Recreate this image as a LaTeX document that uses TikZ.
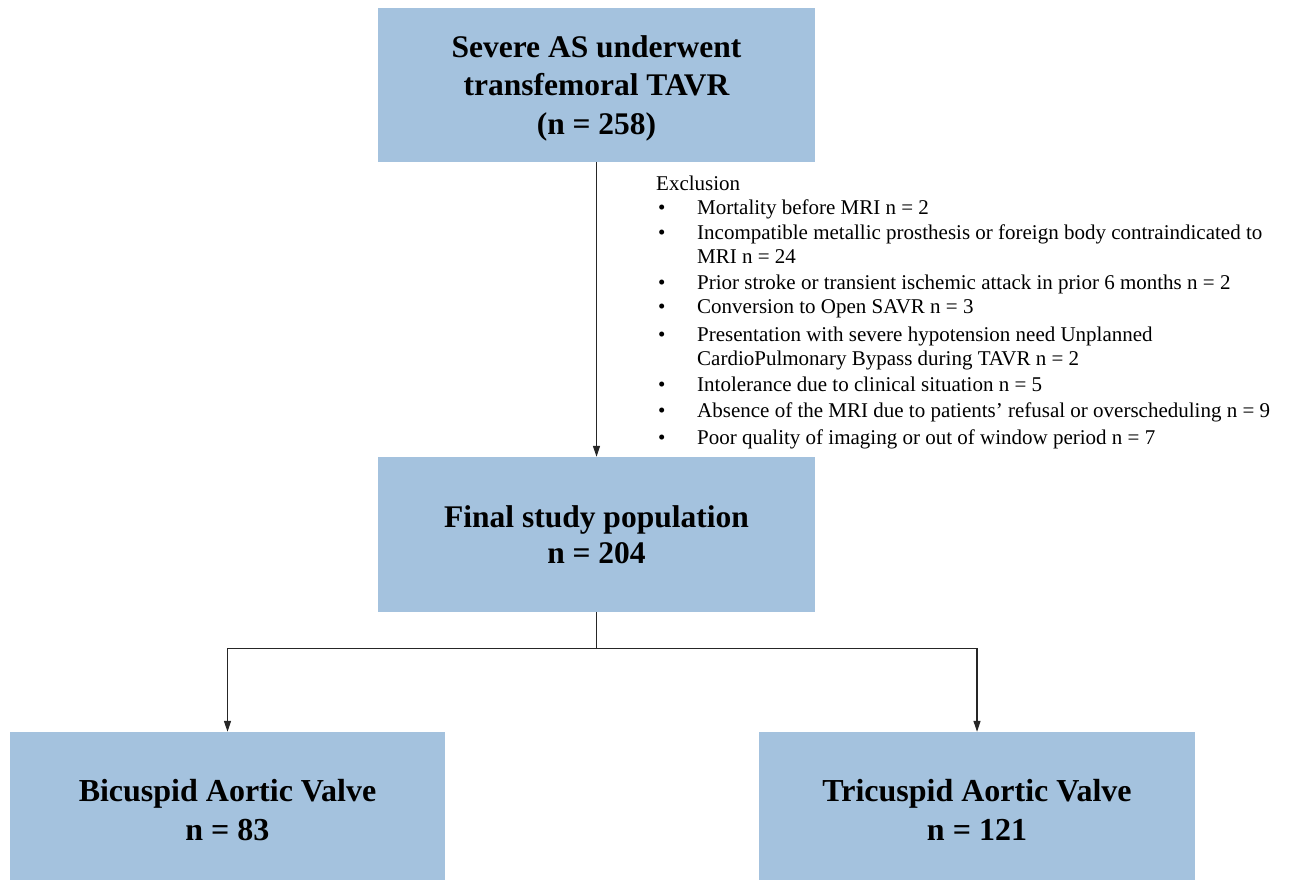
\documentclass[tikz,border=0pt]{standalone}
\usepackage{fontspec}
\setmainfont{Liberation Serif}
\usetikzlibrary{arrows.meta}
\definecolor{boxblue}{RGB}{164,194,222}
\begin{document}
\begin{tikzpicture}[x=1pt,y=-1pt,
  box/.style={fill=boxblue, draw=none, inner sep=0pt, align=center, font=\bfseries\fontsize{31.5}{38.5}\selectfont},
  conn/.style={line width=1.2pt, draw=black!85},
  arr/.style={conn, -{Triangle[length=11pt,width=7pt]}},
  exl/.style={anchor=mid west, inner sep=0pt, font=\fontsize{21}{24}\selectfont},
  bul/.style={anchor=mid west, inner sep=0pt, font=\fontsize{21}{24}\selectfont}]
\useasboundingbox (0,0) rectangle (1289,879);
\node[box, minimum width=437pt, minimum height=154pt, text depth=0pt] (top) at (596.5,85) {Severe AS underwent\\transfemoral TAVR\\(n = 258)};
\node[box, minimum width=437pt, minimum height=155pt, font=\bfseries\fontsize{31.5}{36}\selectfont] (mid) at (596.5,534.5) {Final study population\\n = 204};
\node[box, minimum width=435pt, minimum height=156pt, font=\bfseries\fontsize{32}{39}\selectfont] (bl) at (227.5,810) {Bicuspid Aortic Valve\\n = 83};
\node[box, minimum width=436pt, minimum height=156pt, font=\bfseries\fontsize{32}{39}\selectfont] (br) at (977,810) {Tricuspid Aortic Valve\\n = 121};

\draw[arr] (top.south) -- (mid.north);
\draw[conn] (mid.south) -- ++(0,36) coordinate (j);
\draw[arr] (j) -| (bl.north);
\draw[arr] (j) -| (br.north);

\node[exl] (ex0) at (656,188) {Exclusion};
\foreach \y/\t [count=\i] in {
  212/{Mortality before MRI n = 2},
  237/{Incompatible metallic prosthesis or foreign body contraindicated to},
  287/{Prior stroke or transient ischemic attack in prior 6 months n = 2},
  311/{Conversion to Open SAVR n = 3},
  339/{Presentation with severe hypotension need Unplanned},
  389/{Intolerance due to clinical situation n = 5},
  415/{Absence of the MRI due to patients’ refusal or overscheduling n = 9},
  442/{Poor quality of imaging or out of window period n = 7}} {
  \node[bul] (b\i) at (658,\y) {•};
  \node[exl] (e\i) at (697,\y) {\t};
}
\node[exl] (e2b) at (697,261) {MRI n = 24};
\node[exl] (e5b) at (697,363) {CardioPulmonary Bypass during TAVR n = 2};
\end{tikzpicture}
\end{document}
